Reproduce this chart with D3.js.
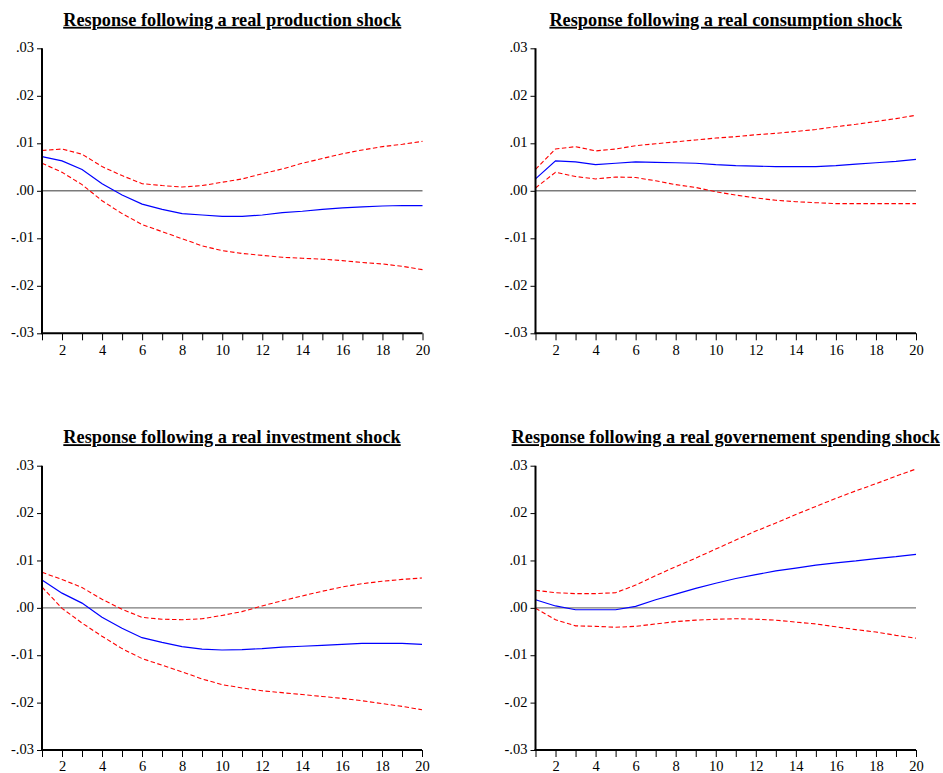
<!DOCTYPE html>
<html>
<head>
<meta charset="utf-8">
<script src="https://cdn.jsdelivr.net/npm/d3@7"></script>
<style>
  html, body { margin: 0; padding: 0; background: #fff; }
  svg { display: block; }
</style>
</head>
<body>
<svg id="chart" width="943" height="773"></svg>
<script>
// periods 1..20
const periods = d3.range(1, 21);
const yTicks = [-0.03, -0.02, -0.01, 0, 0.01, 0.02, 0.03];
const xTickLabels = [2, 4, 6, 8, 10, 12, 14, 16, 18, 20];

const titles = [
  'Response following a real production shock',
  'Response following a real consumption shock',
  'Response following a real investment shock',
  'Response following a real governement spending shock'
];

// response + upper / lower bands, one array per panel
const prodResp  = [0.0072, 0.0063, 0.0045, 0.0015, -0.0009, -0.0028, -0.0039, -0.0048, -0.0051, -0.0054, -0.0054, -0.0051, -0.0046, -0.0043, -0.0039, -0.0036, -0.0034, -0.0032, -0.0031, -0.0031];
const prodUpper = [0.0085, 0.0088, 0.0077, 0.0051, 0.0032, 0.0015, 0.0011, 0.0008, 0.0011, 0.0018, 0.0025, 0.0036, 0.0046, 0.0058, 0.0068, 0.0078, 0.0086, 0.0093, 0.0098, 0.0104];
const prodLower = [0.0058, 0.0039, 0.0013, -0.0021, -0.0048, -0.0071, -0.0086, -0.0101, -0.0116, -0.0126, -0.0132, -0.0136, -0.0140, -0.0142, -0.0144, -0.0147, -0.0151, -0.0154, -0.0159, -0.0166];

const consResp  = [0.0025, 0.0063, 0.0061, 0.0055, 0.0058, 0.0061, 0.0060, 0.0059, 0.0058, 0.0055, 0.0053, 0.0052, 0.0051, 0.0051, 0.0051, 0.0053, 0.0056, 0.0059, 0.0062, 0.0066];
const consUpper = [0.0045, 0.0088, 0.0093, 0.0084, 0.0088, 0.0095, 0.0099, 0.0103, 0.0107, 0.0111, 0.0114, 0.0118, 0.0121, 0.0125, 0.0129, 0.0135, 0.0140, 0.0146, 0.0152, 0.0159];
const consLower = [0.0006, 0.0039, 0.0030, 0.0025, 0.0029, 0.0028, 0.0021, 0.0013, 0.0007, -0.0002, -0.0009, -0.0015, -0.0020, -0.0023, -0.0025, -0.0027, -0.0027, -0.0027, -0.0027, -0.0027];

const invResp  = [0.0059, 0.0031, 0.0010, -0.0020, -0.0043, -0.0063, -0.0073, -0.0082, -0.0087, -0.0089, -0.0088, -0.0086, -0.0083, -0.0081, -0.0079, -0.0077, -0.0075, -0.0075, -0.0075, -0.0077];
const invUpper = [0.0075, 0.0060, 0.0043, 0.0018, -0.0003, -0.0020, -0.0024, -0.0025, -0.0023, -0.0016, -0.0008, 0.0004, 0.0015, 0.0025, 0.0035, 0.0044, 0.0051, 0.0056, 0.0060, 0.0063];
const invLower = [0.0044, -0.0001, -0.0032, -0.0060, -0.0086, -0.0107, -0.0121, -0.0135, -0.0150, -0.0162, -0.0169, -0.0175, -0.0179, -0.0183, -0.0187, -0.0191, -0.0196, -0.0202, -0.0208, -0.0215];

const govResp  = [0.0017, 0.0004, -0.0004, -0.0004, -0.0004, 0.0003, 0.0017, 0.0029, 0.0041, 0.0052, 0.0062, 0.0070, 0.0078, 0.0084, 0.0090, 0.0095, 0.0099, 0.0104, 0.0108, 0.0113];
const govUpper = [0.0037, 0.0032, 0.0030, 0.0030, 0.0032, 0.0048, 0.0068, 0.0087, 0.0105, 0.0124, 0.0143, 0.0162, 0.0179, 0.0197, 0.0214, 0.0231, 0.0247, 0.0262, 0.0278, 0.0293];
const govLower = [-0.0001, -0.0025, -0.0038, -0.0039, -0.0041, -0.0039, -0.0034, -0.0029, -0.0026, -0.0024, -0.0023, -0.0024, -0.0026, -0.0030, -0.0034, -0.0040, -0.0046, -0.0051, -0.0058, -0.0064];

const panels = [
  { title: titles[0], resp: prodResp, upper: prodUpper, lower: prodLower, left: 42,  right: 422.5, top: 48.3,  bottom: 333.3 },
  { title: titles[1], resp: consResp, upper: consUpper, lower: consLower, left: 535.5, right: 916, top: 48.3,  bottom: 333.3 },
  { title: titles[2], resp: invResp,  upper: invUpper,  lower: invLower,  left: 42,  right: 422,   top: 465.7, bottom: 750 },
  { title: titles[3], resp: govResp,  upper: govUpper,  lower: govLower,  left: 535.5, right: 916, top: 465.7, bottom: 750 }
];

const serif = '"Liberation Serif", "Times New Roman", serif';
const svg = d3.select('#chart');
const fmt = v => (v < 0 ? '-' : '') + d3.format('.2f')(Math.abs(v)).replace(/^0/, '');

panels.forEach(p => {
  const x = d3.scaleLinear().domain([1, 20]).range([p.left, p.right]);
  const y = d3.scaleLinear().domain([-0.03, 0.03]).range([p.bottom, p.top]);
  const g = svg.append('g');

  // titre
  g.append('text')
    .attr('x', (p.left + p.right) / 2)
    .attr('y', p.top - 22.5)
    .attr('text-anchor', 'middle')
    .style('font-family', serif)
    .style('font-weight', 'bold')
    .style('font-size', '18.3px')
    .style('text-decoration', 'underline')
    .text(p.title);

  // zero line
  g.append('line')
    .attr('x1', x(1)).attr('x2', x(20))
    .attr('y1', y(0)).attr('y2', y(0))
    .attr('stroke', '#7a7a7a').attr('stroke-width', 1.4);

  const line = d3.line().x((d, i) => x(periods[i])).y(d => y(d));

  [p.upper, p.lower].forEach(band => {
    g.append('path').datum(band)
      .attr('d', line).attr('fill', 'none')
      .attr('stroke', '#ff0000').attr('stroke-width', 1.1).attr('stroke-dasharray', '4.5,2.5');
  });
  g.append('path').datum(p.resp)
    .attr('d', line).attr('fill', 'none')
    .attr('stroke', '#0000ff').attr('stroke-width', 1.2);

  // axes
  const yAxis = g.append('g')
    .attr('transform', `translate(${p.left},0)`)
    .call(d3.axisLeft(y).tickValues(yTicks).tickFormat(fmt).tickSize(5).tickPadding(3));
  const xAxis = g.append('g')
    .attr('transform', `translate(0,${p.bottom})`)
    .call(d3.axisBottom(x).tickValues(periods).tickSize(7).tickPadding(4)
      .tickFormat(d => xTickLabels.includes(d) ? d : ''));

  [yAxis, xAxis].forEach(a => {
    a.select('.domain').remove();
    a.selectAll('.tick line').attr('stroke', '#000').attr('stroke-width', 1);
    a.selectAll('.tick text')
      .attr('fill', '#000')
      .style('font-family', serif)
      .style('font-size', '14.5px');
  });
  yAxis.selectAll('.tick text').attr('dy', '0.25em');

  // axis lines, drawn thick
  g.append('line')
    .attr('x1', p.left).attr('x2', p.left)
    .attr('y1', p.top).attr('y2', p.bottom)
    .attr('stroke', '#000').attr('stroke-width', 2);
  g.append('line')
    .attr('x1', p.left - 1).attr('x2', p.right)
    .attr('y1', p.bottom).attr('y2', p.bottom)
    .attr('stroke', '#000').attr('stroke-width', 2);
});
</script>
</body>
</html>
